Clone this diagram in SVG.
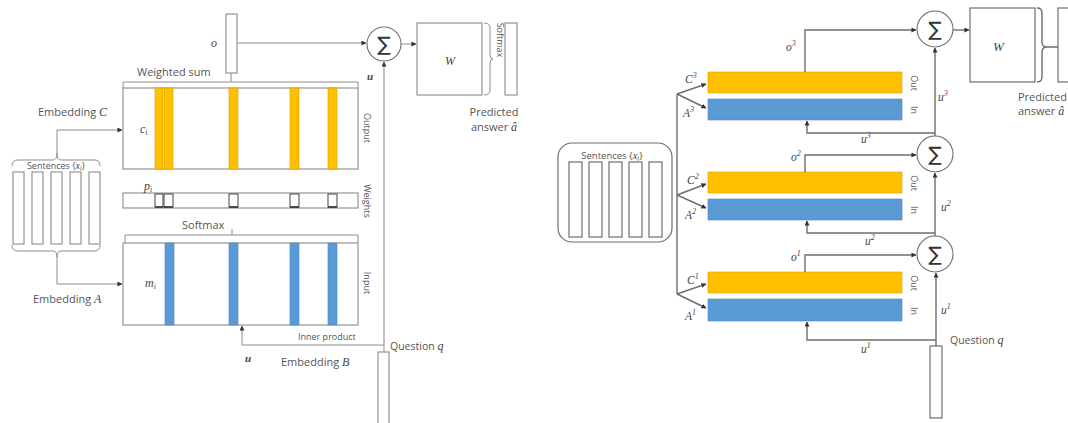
<svg xmlns="http://www.w3.org/2000/svg" width="1068" height="423" viewBox="0 0 1068 423">
<style>
  text{font-family:"Open Sans","Noto Sans",sans-serif;fill:#555}
  .it{font-family:"Liberation Serif",serif;font-style:italic;fill:#444}
  .lbl{font-size:11px}
  .rot{font-size:9px;text-anchor:middle}
  .ln{fill:none;stroke:#8c8c8c;stroke-width:1}
  .rl{fill:none;stroke:#6e6e6e;stroke-width:1.4}
  .box{fill:#fff;stroke:#808080;stroke-width:1}
  .rbox{fill:#fff;stroke:#6e6e6e;stroke-width:1.2}
  .or{fill:#FFC000;stroke:#D5A000;stroke-width:0.6}
  .bl{fill:#5B9BD5;stroke:#4A86BE;stroke-width:0.6}
  .wk{fill:#fff;stroke:#444;stroke-width:1}
  .wb{fill:none;stroke:#333;stroke-width:1.6}
  .sum{fill:#fff;stroke:#6e6e6e;stroke-width:1.1}
  .sig{font-family:"DejaVu Sans",sans-serif;font-size:20px;fill:#333;text-anchor:middle}
</style>
<defs>
  <marker id="ah" viewBox="0 0 6 6" refX="5.5" refY="3" markerUnits="userSpaceOnUse" markerWidth="5" markerHeight="5" orient="auto">
    <path d="M0,0 L6,3 L0,6 z" fill="#333"/>
  </marker>
</defs>

<!-- ===== Single-hop memory network (left) ===== -->
<g id="left-o">
  <rect class="box" x="226" y="14" width="11" height="59"/>
  <text class="it" x="211" y="47" font-size="12">o</text>
</g>
<g id="left-sum">
  <circle class="sum" cx="384" cy="44" r="17"/>
  <text class="sig" x="384" y="51">∑</text>
  <text class="it" x="367" y="80" font-size="11" font-weight="bold">u</text>
</g>
<g id="left-W">
  <rect class="box" x="417" y="23" width="65" height="72"/>
  <text class="it" x="445" y="65" font-size="12">W</text>
  <path class="ln" d="M484,23 Q490,23 490,28 V55 Q490,59 493,59 Q490,59 490,63 V90 Q490,95 484,95"/>
  <text class="rot" x="497" y="40" transform="rotate(90 497 40)" font-size="10">Softmax</text>
</g>
<g id="left-answer">
  <rect class="box" x="505" y="23" width="12" height="72"/>
  <text class="lbl" x="494" y="116" text-anchor="middle">Predicted</text>
  <text class="lbl" x="494" y="131" text-anchor="middle">answer <tspan class="it" font-size="12">â</tspan></text>
</g>
<g id="left-output">
  <path class="ln" d="M123,88 V82 H358 V88 M231,82 V73"/>
  <text class="lbl" x="137" y="76" font-size="11.5">Weighted sum</text>
  <rect class="box" x="123" y="88" width="235" height="81"/>
  <rect class="or" x="155" y="88" width="8" height="81"/>
  <rect class="or" x="164" y="88" width="9" height="81"/>
  <rect class="or" x="229" y="88" width="9" height="81"/>
  <rect class="or" x="290" y="88" width="9" height="81"/>
  <rect class="or" x="328" y="88" width="9" height="81"/>
  <text class="it" x="140" y="133" font-size="12">c<tspan font-size="8" dy="2">i</tspan></text>
  <text class="rot" x="364" y="128" transform="rotate(90 364 128)">Output</text>
</g>
<g id="left-weights">
  <rect class="box" x="123" y="193" width="235" height="15"/>
  <rect class="wk" x="155" y="194" width="8" height="13"/>
  <rect class="wk" x="164" y="194" width="9" height="13"/>
  <rect class="wk" x="229" y="194" width="9" height="13"/>
  <rect class="wk" x="290" y="194" width="9" height="13"/>
  <rect class="wk" x="328" y="194" width="9" height="13"/>
  <path class="wb" d="M155,207 h8 M164,207 h9 M229,207 h9 M290,207 h9 M328,207 h9"/>
  <text class="it" x="144" y="190" font-size="12">p<tspan font-size="8" dy="2">i</tspan></text>
  <text class="rot" x="364" y="201" transform="rotate(90 364 201)">Weights</text>
</g>
<g id="left-input">
  <path class="ln" d="M125,243 V235 H358 V243 M232,235 V229"/>
  <text class="lbl" x="182" y="229">Softmax</text>
  <rect class="box" x="123" y="243" width="235" height="82"/>
  <rect class="bl" x="165" y="243" width="9" height="82"/>
  <rect class="bl" x="229" y="243" width="9" height="82"/>
  <rect class="bl" x="290" y="243" width="9" height="82"/>
  <rect class="bl" x="328" y="243" width="9" height="82"/>
  <text class="it" x="145" y="287" font-size="12">m<tspan font-size="8" dy="2">i</tspan></text>
  <text class="rot" x="364" y="283" transform="rotate(90 364 283)">Input</text>
</g>
<g id="left-sentences">
  <path class="ln" d="M12,166 Q12,160 18,160 H53 Q57,160 57,153 Q57,160 61,160 H95 Q100,160 100,166"/>
  <text x="56" y="169" font-size="9" text-anchor="middle">Sentences {<tspan class="it" font-size="10">x</tspan><tspan font-size="6.5" dy="2">i</tspan><tspan dy="-2">}</tspan></text>
  <rect class="box" x="13" y="172" width="11" height="72"/>
  <rect class="box" x="32" y="172" width="11" height="72"/>
  <rect class="box" x="51" y="172" width="11" height="72"/>
  <rect class="box" x="70" y="172" width="11" height="72"/>
  <rect class="box" x="89" y="172" width="11" height="72"/>
  <path class="ln" d="M12,245 Q12,251 18,251 H53 Q57,251 57,257 Q57,251 61,251 H95 Q100,251 100,245"/>
  <text class="lbl" x="38" y="116">Embedding <tspan class="it" font-size="12">C</tspan></text>
  <text class="lbl" x="33" y="303">Embedding <tspan class="it" font-size="12">A</tspan></text>
</g>
<g id="left-question">
  <rect class="box" x="378" y="352" width="11" height="75"/>
  <text x="390" y="350" font-size="10.5">Question <tspan class="it" font-size="12">q</tspan></text>
  <text x="298" y="340" font-size="9">Inner product</text>
  <text class="it" x="245" y="362" font-size="11" font-weight="bold">u</text>
  <text class="lbl" x="281" y="366">Embedding <tspan class="it" font-size="12">B</tspan></text>
</g>

<g id="left-connectors">
  <path class="ln" d="M237,43 H366" marker-end="url(#ah)"/>
  <path class="ln" d="M401,44 H416" marker-end="url(#ah)"/>
  <path class="ln" d="M384,352 V62" marker-end="url(#ah)"/>
  <path class="ln" d="M384,345 H242 V326" marker-end="url(#ah)"/>
  <path class="ln" d="M57,153 V130 H122" marker-end="url(#ah)"/>
  <path class="ln" d="M57,257 V284 H122" marker-end="url(#ah)"/>
</g>

<!-- ===== Three-hop memory network (right) ===== -->
<g id="right-sentences">
  <rect class="rbox" x="558" y="143" width="114" height="99" rx="14"/>
  <text x="612" y="159" font-size="9.5" text-anchor="middle">Sentences {<tspan class="it" font-size="10.5">x</tspan><tspan font-size="7" dy="2">i</tspan><tspan dy="-2">}</tspan></text>
  <rect class="rbox" x="569" y="162" width="13" height="75"/>
  <rect class="rbox" x="589" y="162" width="13" height="75"/>
  <rect class="rbox" x="609" y="162" width="13" height="75"/>
  <rect class="rbox" x="629" y="162" width="13" height="75"/>
  <rect class="rbox" x="649" y="162" width="13" height="75"/>
</g>
<g id="hop3">
  <rect class="or" x="708" y="72" width="194" height="21"/>
  <rect class="bl" x="708" y="99" width="194" height="21"/>
  <text class="rot" x="911" y="83" transform="rotate(90 911 83)">Out</text>
  <text class="rot" x="911" y="110" transform="rotate(90 911 110)">In</text>
  <text class="it" x="685" y="83" font-size="11.5">C<tspan font-size="8" dy="-5">3</tspan></text>
  <text class="it" x="683" y="117" font-size="11.5">A<tspan font-size="8" dy="-5">3</tspan></text>
  <text class="it" x="786" y="51" font-size="11.5">o<tspan font-size="8" dy="-5">3</tspan></text>
  <text class="it" x="861" y="143" font-size="11.5">u<tspan font-size="8" dy="-5">3</tspan></text>
  <text class="it" x="938" y="101" font-size="11.5">u<tspan font-size="8" dy="-5">3</tspan></text>
</g>
<g id="hop2">
  <rect class="or" x="708" y="172" width="194" height="21"/>
  <rect class="bl" x="708" y="199" width="194" height="21"/>
  <text class="rot" x="911" y="183" transform="rotate(90 911 183)">Out</text>
  <text class="rot" x="911" y="210" transform="rotate(90 911 210)">In</text>
  <text class="it" x="687" y="184" font-size="11.5">C<tspan font-size="8" dy="-5">2</tspan></text>
  <text class="it" x="685" y="219" font-size="11.5">A<tspan font-size="8" dy="-5">2</tspan></text>
  <text class="it" x="791" y="161" font-size="11.5">o<tspan font-size="8" dy="-5">2</tspan></text>
  <text class="it" x="865" y="245" font-size="11.5">u<tspan font-size="8" dy="-5">2</tspan></text>
  <text class="it" x="941" y="211" font-size="11.5">u<tspan font-size="8" dy="-5">2</tspan></text>
</g>
<g id="hop1">
  <rect class="or" x="708" y="272" width="194" height="21"/>
  <rect class="bl" x="708" y="299" width="194" height="22"/>
  <text class="rot" x="911" y="283" transform="rotate(90 911 283)">Out</text>
  <text class="rot" x="911" y="311" transform="rotate(90 911 311)">In</text>
  <text class="it" x="687" y="284" font-size="11.5">C<tspan font-size="8" dy="-5">1</tspan></text>
  <text class="it" x="685" y="320" font-size="11.5">A<tspan font-size="8" dy="-5">1</tspan></text>
  <text class="it" x="791" y="261" font-size="11.5">o<tspan font-size="8" dy="-5">1</tspan></text>
  <text class="it" x="861" y="353" font-size="11.5">u<tspan font-size="8" dy="-5">1</tspan></text>
  <text class="it" x="941" y="314" font-size="11.5">u<tspan font-size="8" dy="-5">1</tspan></text>
</g>
<g id="right-sums">
  <circle class="sum" cx="935" cy="29" r="18"/>
  <text class="sig" x="935" y="36">∑</text>
  <circle class="sum" cx="935" cy="154" r="18"/>
  <text class="sig" x="935" y="161">∑</text>
  <circle class="sum" cx="935" cy="254" r="18"/>
  <text class="sig" x="935" y="261">∑</text>
</g>
<g id="right-W">
  <rect class="rbox" x="970" y="8" width="65" height="74"/>
  <text class="it" x="993" y="51" font-size="13">W</text>
  <path class="rl" d="M1037,8 Q1042,8 1042,13 V42 Q1042,47 1047,47 Q1042,47 1042,52 V77 Q1042,82 1037,82 M1047,47 H1058"/>
  <rect class="rbox" x="1058" y="8" width="20" height="74"/>
  <text class="lbl" x="1018" y="101">Predicted</text>
  <text class="lbl" x="1018" y="115">answer <tspan class="it" font-size="12">â</tspan></text>
</g>
<g id="right-question">
  <rect class="rbox" x="930" y="346" width="12" height="72"/>
  <text x="950" y="344" font-size="10.5">Question <tspan class="it" font-size="12">q</tspan></text>
</g>

<g id="right-connectors">
  <path class="rl" d="M677,94 V294"/>
  <path class="rl" d="M677,94 L706,84" marker-end="url(#ah)"/>
  <path class="rl" d="M677,94 L706,108" marker-end="url(#ah)"/>
  <path class="rl" d="M677,195 L706,184" marker-end="url(#ah)"/>
  <path class="rl" d="M677,195 L706,208" marker-end="url(#ah)"/>
  <path class="rl" d="M677,294 L706,284" marker-end="url(#ah)"/>
  <path class="rl" d="M677,294 L706,308" marker-end="url(#ah)"/>
  <path class="rl" d="M805,72 V30 H916" marker-end="url(#ah)"/>
  <path class="rl" d="M805,172 V155 H916" marker-end="url(#ah)"/>
  <path class="rl" d="M805,272 V255 H916" marker-end="url(#ah)"/>
  <path class="rl" d="M953,30 H969" marker-end="url(#ah)"/>
  <path class="rl" d="M935,136 V48" marker-end="url(#ah)"/>
  <path class="rl" d="M935,133 H807 V121" marker-end="url(#ah)"/>
  <path class="rl" d="M935,236 V173" marker-end="url(#ah)"/>
  <path class="rl" d="M935,233 H807 V221" marker-end="url(#ah)"/>
  <path class="rl" d="M936,346 V273" marker-end="url(#ah)"/>
  <path class="rl" d="M936,340 H807 V322" marker-end="url(#ah)"/>
</g>
</svg>
